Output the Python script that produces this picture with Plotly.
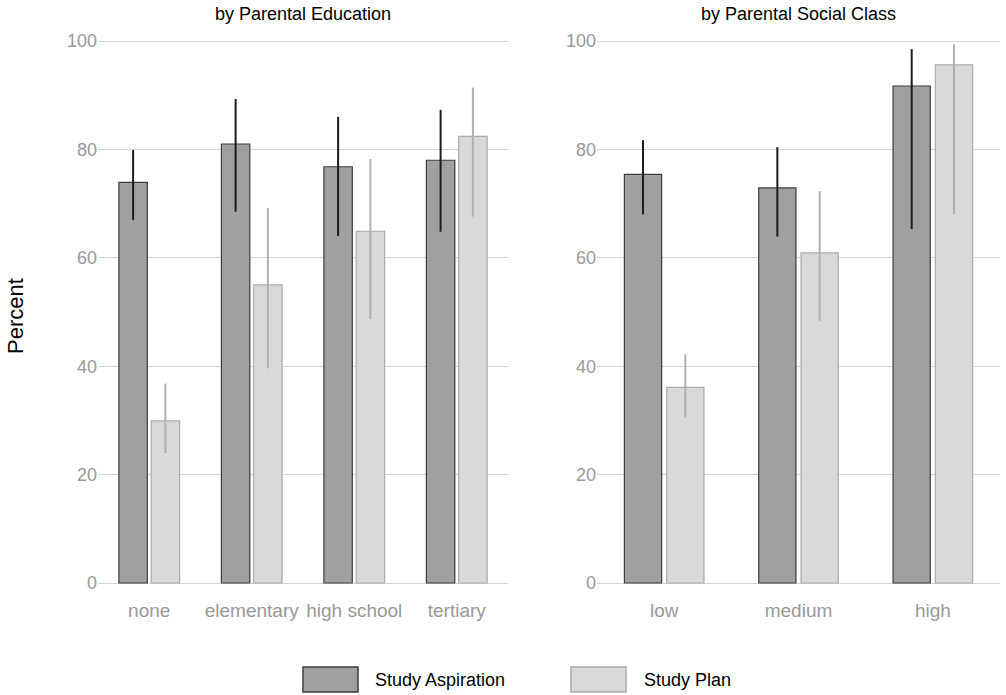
import plotly.graph_objects as go

# ---------------- data ----------------
edu_cats = ["none", "elementary", "high school", "tertiary"]
edu_asp = [73.9, 81.0, 76.8, 78.0]
edu_asp_hi = [79.9, 89.3, 86.0, 87.3]
edu_asp_lo = [67.0, 68.5, 64.0, 64.8]
edu_plan = [29.9, 55.0, 64.9, 82.4]
edu_plan_hi = [36.8, 69.2, 78.2, 91.4]
edu_plan_lo = [24.0, 39.6, 48.7, 67.6]

class_cats = ["low", "medium", "high"]
class_asp = [75.4, 72.9, 91.7]
class_asp_hi = [81.7, 80.4, 98.5]
class_asp_lo = [68.0, 63.9, 65.3]
class_plan = [36.1, 60.9, 95.6]
class_plan_hi = [42.2, 72.3, 99.4]
class_plan_lo = [30.6, 48.3, 68.0]

series_names = ["Study Aspiration", "Study Plan"]
panel_titles = ["by Parental Education", "by Parental Social Class"]
y_ticks = [0, 20, 40, 60, 80, 100]
y_title = "Percent"

# ---------------- styles ----------------
W, H = 1006, 695
FONT = "Liberation Sans, Arial, Helvetica, sans-serif"
fills = ["#a0a0a0", "#d9d9d9"]
outlines = ["#3c3c3c", "#ababab"]
errcols = ["#1c1c1c", "#b0b0b0"]
errwidths = [2, 2]
tick_col = "#999999"
grid_col = "#d4d4d4"


def px(x):
    return x / W


def py(y):
    return 1 - y / H


fig = go.Figure()


def add_bars(cats, vals, hi, lo, idx, xa, ya):
    fig.add_trace(go.Bar(
        x=cats, y=vals, name=series_names[idx], showlegend=False,
        marker=dict(color=fills[idx], line=dict(color=outlines[idx], width=1.2)),
        error_y=dict(type="data", symmetric=False,
                     array=[h - v for h, v in zip(hi, vals)],
                     arrayminus=[v - l for v, l in zip(vals, lo)],
                     width=0, thickness=errwidths[idx], color=errcols[idx]),
        xaxis=xa, yaxis=ya,
    ))


add_bars(edu_cats, edu_asp, edu_asp_hi, edu_asp_lo, 0, "x", "y")
add_bars(edu_cats, edu_plan, edu_plan_hi, edu_plan_lo, 1, "x", "y")
add_bars(class_cats, class_asp, class_asp_hi, class_asp_lo, 0, "x2", "y2")
add_bars(class_cats, class_plan, class_plan_hi, class_plan_lo, 1, "x2", "y2")

# pixel geometry -> paper fractions
top_px, bot_px = 28, 597
y0_px, y100_px = 583, 41
ppu = (y0_px - y100_px) / 100.0
y_lo = -(bot_px - y0_px) / ppu
y_hi = 100 + (y100_px - top_px) / ppu
ydom = [py(bot_px), py(top_px)]
x1dom = [px(98), px(508)]
x2dom = [px(597), px(1000)]

xaxis_common = dict(showgrid=False, zeroline=False, showline=False, ticks="",
                    tickfont=dict(size=19, color=tick_col, family=FONT),
                    automargin=False, fixedrange=True)
yaxis_common = dict(range=[y_lo, y_hi], tickvals=y_ticks, showgrid=True,
                    gridcolor=grid_col, gridwidth=1, zeroline=False,
                    showline=False, ticks="",
                    tickfont=dict(size=18, color=tick_col, family=FONT),
                    automargin=False, fixedrange=True)

fig.update_layout(
    width=W, height=H,
    margin=dict(l=0, r=0, t=0, b=0),
    paper_bgcolor="white", plot_bgcolor="white",
    barmode="group", bargap=0.37, bargroupgap=0.12,
    showlegend=False,
    font=dict(family=FONT, size=18, color="black"),
    xaxis=dict(domain=x1dom, anchor="y", **xaxis_common),
    xaxis2=dict(domain=x2dom, anchor="y2", **xaxis_common),
    yaxis=dict(domain=ydom, anchor="x", **yaxis_common),
    yaxis2=dict(domain=ydom, anchor="x2", **yaxis_common),
)

annotations = []
for dom, t in zip([x1dom, x2dom], panel_titles):
    annotations.append(dict(text=t, x=(dom[0] + dom[1]) / 2, y=py(14),
                            xref="paper", yref="paper", showarrow=False,
                            xanchor="center", yanchor="middle",
                            font=dict(size=18, color="black", family=FONT)))
annotations.append(dict(text=y_title, x=px(15), y=py(316), xref="paper",
                        yref="paper", showarrow=False, textangle=-90,
                        xanchor="center", yanchor="middle",
                        font=dict(size=22, color="black", family=FONT)))

# legend (keys drawn as shapes, labels as text)
shapes = []
leg_keys = [(303, 358, 373), (571, 626, 642)]
for i, (x0, x1, tx) in enumerate(leg_keys):
    shapes.append(dict(type="rect", xref="paper", yref="paper",
                       x0=px(x0), x1=px(x1), y0=py(692), y1=py(667),
                       fillcolor=fills[i], line=dict(color=outlines[i], width=1.5)))
    annotations.append(dict(text=series_names[i], x=px(tx), y=py(680),
                            xref="paper", yref="paper", showarrow=False,
                            xanchor="left", yanchor="middle",
                            font=dict(size=18, color="black", family=FONT)))

fig.update_layout(annotations=annotations, shapes=shapes)
fig.write_html("out.html",
               config={"displayModeBar": False},
               post_script="document.body.style.margin='0px';"
                           "document.body.style.overflow='hidden';")
